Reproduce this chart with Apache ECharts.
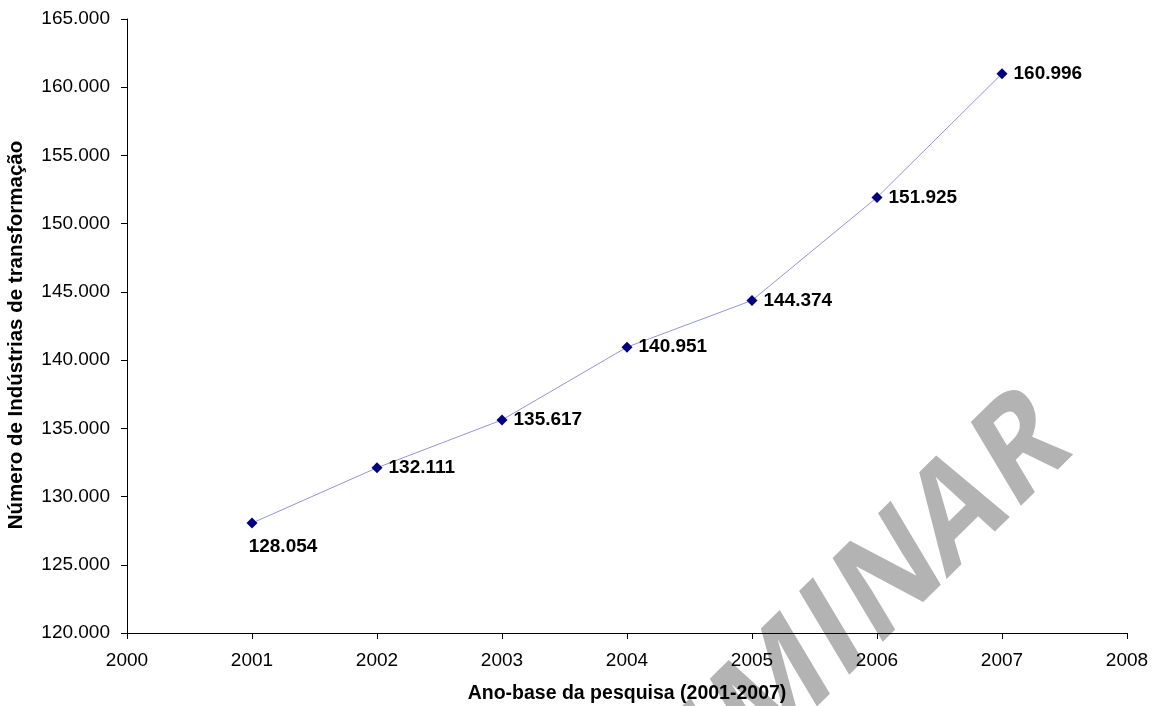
<!DOCTYPE html>
<html>
<head>
<meta charset="utf-8">
<script src="https://cdn.jsdelivr.net/npm/echarts@6/dist/echarts.min.js"></script>
<style>
  html, body { margin: 0; padding: 0; background: #fff; }
  #chart { width: 1153px; height: 706px; }
</style>
</head>
<body>
<div id="chart"></div>
<script>
// dados
const years = [2001, 2002, 2003, 2004, 2005, 2006, 2007];
const industries = [128054, 132111, 135617, 140951, 144374, 151925, 160996];
const yRange = [120000, 165000, 5000];
const xRange = [2000, 2008, 1];

// 128054 -> "128.054"
const fmtThousands = v => {
  const k = Math.floor(v / 1000);
  const r = String(Math.round(v % 1000)).padStart(3, '0');
  return k + '.' + r;
};

const points = years.map((y, i) => {
  const p = { value: [y, industries[i]] };
  if (i === 0) {
    // primeiro rótulo fica abaixo do ponto
    p.label = { position: 'bottom', distance: 9, offset: [31, 0] };
  }
  return p;
});

// marca d'água: letra a letra ao longo da linha de base (girada e esticada)
const wmLetters = 'PRELIMINAR'.split('');
const wmOffsets = [-812, -715, -623, -540, -474, -375, -276, -186, -79, 26];
const wmLetterEls = wmLetters.map((ch, i) => ({
  type: 'text',
  z: -10,
  x: wmOffsets[i],
  y: -55,
  style: {
    text: ch,
    align: 'center',
    verticalAlign: 'middle',
    fill: '#b3b3b3',
    font: 'bold 148px "Open Sans", "DejaVu Sans", sans-serif'
  }
}));

const chart = echarts.init(document.getElementById('chart'));
chart.setOption({
  animation: false,
  textStyle: { fontFamily: 'Liberation Sans, Arial, sans-serif' },
  grid: { left: 127, right: 26, top: 19, bottom: 73, outerBoundsMode: 'none' },
  graphic: [{
    type: 'group',
    z: -10,
    x: 1033,
    y: 510,
    scaleX: 0.78,
    children: [{
      type: 'group',
      z: -10,
      rotation: 37.5 * Math.PI / 180,
      children: wmLetterEls
    }]
  }],
  xAxis: {
    type: 'value',
    min: xRange[0], max: xRange[1], interval: xRange[2],
    name: 'Ano-base da pesquisa (2001-2007)',
    nameLocation: 'middle',
    nameGap: 51,
    nameTextStyle: { color: '#000', fontSize: 19.5, fontWeight: 'bold' },
    axisLine: { lineStyle: { color: '#000', width: 1 } },
    axisTick: { length: 6, lineStyle: { color: '#000' } },
    axisLabel: { color: '#000', fontSize: 19, margin: 18, formatter: v => String(v) },
    splitLine: { show: false }
  },
  yAxis: {
    type: 'value',
    min: yRange[0], max: yRange[1], interval: yRange[2],
    name: 'Número de Indústrias de transformação',
    nameLocation: 'middle',
    nameGap: 100,
    nameTextStyle: { color: '#000', fontSize: 20.5, fontWeight: 'bold', padding: [0, 18, 0, 0] },
    axisLine: { show: true, lineStyle: { color: '#000', width: 1 } },
    axisTick: { show: true, length: 6, lineStyle: { color: '#000' } },
    axisLabel: { color: '#000', fontSize: 19, margin: 17, formatter: fmtThousands },
    splitLine: { show: false }
  },
  series: [{
    type: 'line',
    data: points,
    symbol: 'diamond',
    symbolSize: 11,
    lineStyle: { color: '#9393d8', width: 1 },
    itemStyle: { color: '#000080' },
    label: {
      show: true,
      position: 'right',
      distance: 6,
      color: '#000',
      fontSize: 19,
      fontWeight: 'bold',
      formatter: p => fmtThousands(p.value[1])
    }
  }]
});
</script>
</body>
</html>
